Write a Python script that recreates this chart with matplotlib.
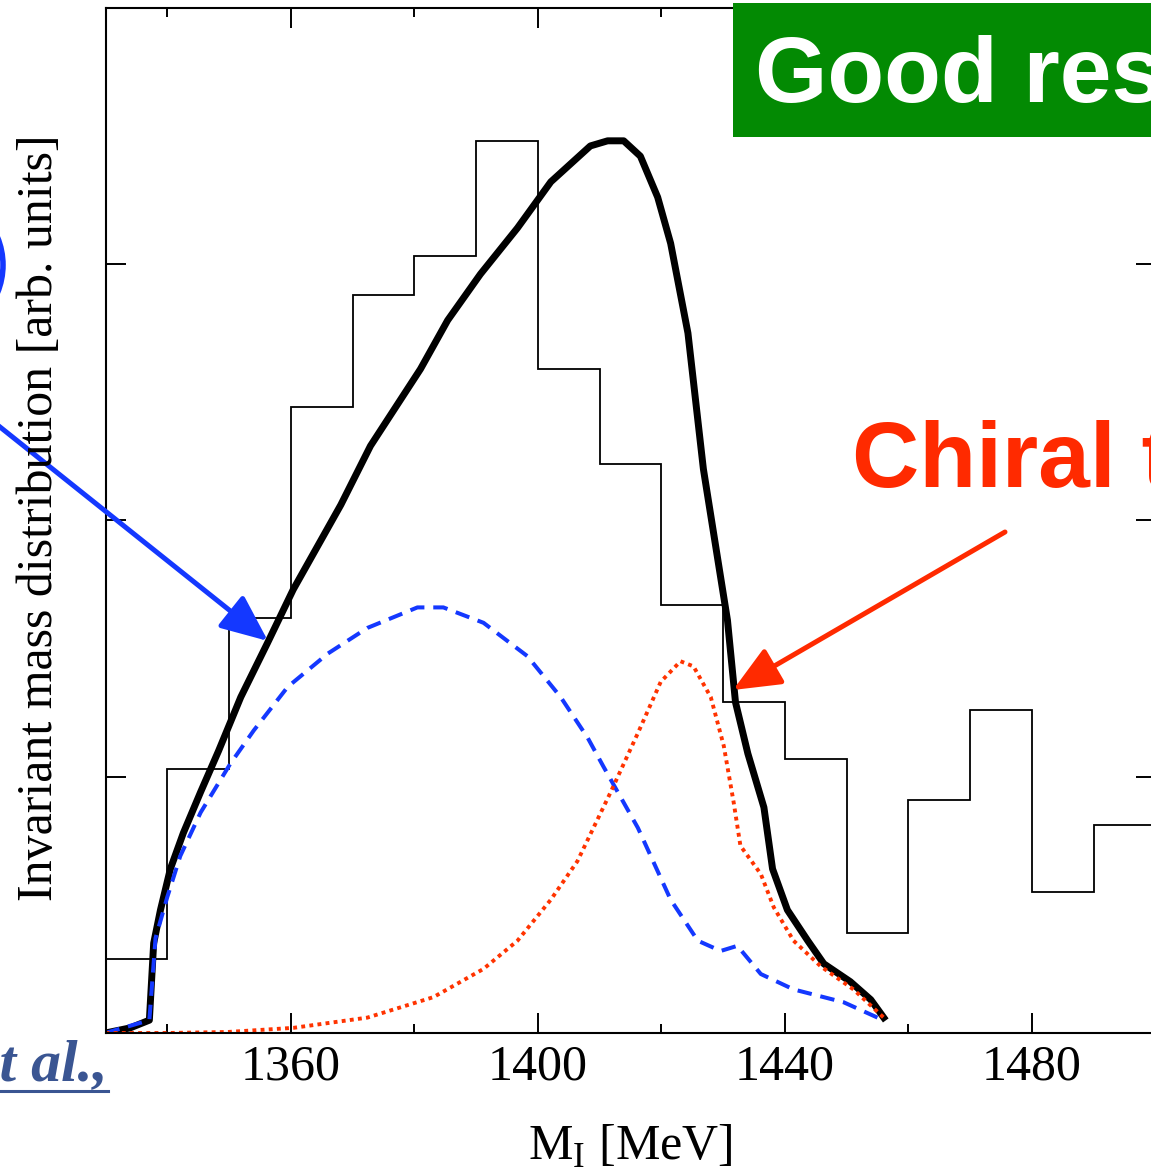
import matplotlib
matplotlib.use("Agg")
import matplotlib.pyplot as plt
from matplotlib.patches import FancyArrowPatch, Rectangle, Ellipse

W, H = 1151, 1169

# histogram (10 MeV bins)
hist_edges = [1330, 1340, 1350, 1360, 1370, 1380, 1390, 1400, 1410, 1420,
              1430, 1440, 1450, 1460, 1470, 1480, 1490, 1500]
hist_vals = [0.29, 1.03, 1.62, 2.44, 2.88, 3.03, 3.48, 2.59, 2.22,
             1.67, 1.29, 1.07, 0.39, 0.91, 1.26, 0.55, 0.81]

# total (thick black)
tot_m = [1330, 1334.0, 1337.1, 1337.8, 1338.9, 1340.5, 1342.6, 1345.4, 1348.3,
         1351.9, 1356.2, 1360.4, 1368.1, 1372.9, 1381.0, 1385.4, 1390.7, 1396.7,
         1402.1, 1408.5, 1411.3, 1413.9, 1416.6, 1419.4, 1421.5, 1424.3, 1426.8,
         1430.7, 1432.0, 1434.0, 1436.6, 1438.0, 1440.4, 1443.7, 1446.3, 1450.6,
         1453.9, 1456.0]
tot_y = [0.0, 0.02, 0.05, 0.35, 0.48, 0.64, 0.78, 0.94, 1.10,
         1.31, 1.52, 1.73, 2.06, 2.29, 2.59, 2.78, 2.96, 3.14,
         3.32, 3.46, 3.48, 3.48, 3.42, 3.26, 3.08, 2.73, 2.20,
         1.61, 1.29, 1.09, 0.88, 0.64, 0.48, 0.36, 0.27, 0.20,
         0.13, 0.06]

# blue dashed component
blue_m = [1330, 1337.1, 1338.1, 1340.0, 1342.1, 1345.4, 1350.2, 1354.0, 1359.5,
          1366.0, 1372.4, 1380.5, 1384.7, 1391.2, 1398.3, 1403.7, 1408.1, 1410.6,
          1416.2, 1421.5, 1425.9, 1429.6, 1432.3, 1436.1, 1441.4, 1449.5, 1455.0]
blue_y = [0.0, 0.05, 0.37, 0.53, 0.69, 0.86, 1.05, 1.18, 1.35,
          1.48, 1.58, 1.66, 1.66, 1.60, 1.47, 1.31, 1.15, 1.04,
          0.80, 0.52, 0.36, 0.32, 0.34, 0.23, 0.17, 0.12, 0.06]

# red dotted component
red_m = [1330, 1340, 1349.8, 1360.4, 1372.4, 1383.1, 1391.2, 1396.7, 1402.1,
         1406.4, 1411.8, 1416.2, 1419.9, 1423.1, 1425.2, 1428.0, 1430.1, 1431.7,
         1432.8, 1436.1, 1438.2, 1441.4, 1445.8, 1451.1, 1456.0]
red_y = [0.0, 0.0, 0.004, 0.02, 0.06, 0.14, 0.25, 0.36, 0.52,
         0.67, 0.94, 1.17, 1.37, 1.45, 1.43, 1.31, 1.12, 0.90,
         0.73, 0.62, 0.49, 0.36, 0.26, 0.17, 0.06]

xticks_major = [1360, 1400, 1440, 1480]
xticks_minor = [1340, 1380, 1420, 1460, 1500]


def px(x, y):
    # pixel position (from top-left) -> figure fraction
    return (x / W, 1 - y / H)


plt.rcParams['mathtext.fontset'] = 'custom'
plt.rcParams['mathtext.rm'] = 'Liberation Serif'
serif = 'Liberation Serif'
sans = 'Liberation Sans'

fig = plt.figure(figsize=(W / 100, H / 100), dpi=100)
ax = fig.add_axes([105.5 / W, (H - 1033) / H, (1155.5 - 105.5) / W, (1033 - 7.5) / H])

ax.stairs(hist_vals, hist_edges, baseline=None, color='black', lw=1.3)
ax.plot(tot_m, tot_y, color='black', lw=5.0, solid_joinstyle='round')
ax.plot(blue_m, blue_y, color='#1438FF', lw=2.9, dashes=(3.6, 2.2))
ax.plot(red_m, red_y, color='#FF3300', lw=2.8, dashes=(1, 1.1))

ax.set_xlim(1330, 1500)
ax.set_ylim(0, 4)
ax.set_xticks(xticks_major)
ax.set_xticks(xticks_minor, minor=True)
ax.set_yticks([1, 2, 3])
ax.set_yticklabels([])
ax.tick_params(which='both', direction='in', top=True, right=True, width=1.4)
ax.tick_params(which='major', length=14.4, pad=8)
ax.tick_params(which='minor', length=6.5)
for lab in ax.get_xticklabels():
    lab.set_fontfamily(serif)
    lab.set_fontsize(36)
for s in ax.spines.values():
    s.set_linewidth(1.5)

# axis titles
fig.text(*px(630, 1160), r'M$_{\rm I}$ [MeV]', family=serif, fontsize=36,
         ha='center', va='baseline')
fig.text(*px(40, 518), 'Invariant mass distribution [arb. units]', family=serif,
         fontsize=36, rotation=90, ha='center', va='center')

# green banner
fig.add_artist(Rectangle(px(733, 137), (1200 - 733) / W, (137 - 3) / H,
                         transform=fig.transFigure, color='#038A03', lw=0))
fig.text(*px(755, 102), 'Good results', family=sans, weight='bold',
         fontsize=67, color='white', ha='left', va='baseline')

# red label and arrow
fig.text(*px(852, 487), 'Chiral theory', family=sans, weight='bold',
         fontsize=67, color='#FF2A00', ha='left', va='baseline')
arrow_style = '-|>,head_length=0.6,head_width=0.26'
fig.add_artist(FancyArrowPatch(px(1005, 532), px(733, 690), transform=fig.transFigure,
                               arrowstyle=arrow_style, mutation_scale=48,
                               color='#FF2A00', lw=3.6, shrinkA=0, shrinkB=0))

# blue arrow and circle
fig.add_artist(FancyArrowPatch(px(-5, 423), px(268, 641), transform=fig.transFigure,
                               arrowstyle=arrow_style, mutation_scale=48,
                               color='#1438FF', lw=3.6, shrinkA=0, shrinkB=0))
fig.add_artist(Ellipse(px(-70, 265), 2 * 73 / W, 2 * 73 / H, transform=fig.transFigure,
                       fill=False, edgecolor='#1438FF', lw=4))

# reference note, bottom left
fig.text(*px(108, 1080), 'et al.,', family=serif, weight='bold', style='italic',
         fontsize=43, color='#3A5592', ha='right', va='baseline')
fig.add_artist(plt.Line2D([0, 108 / W], [1 - 1091 / H] * 2, transform=fig.transFigure,
                          color='#3A5592', lw=2.2))

fig.savefig('out.png', dpi=100)
